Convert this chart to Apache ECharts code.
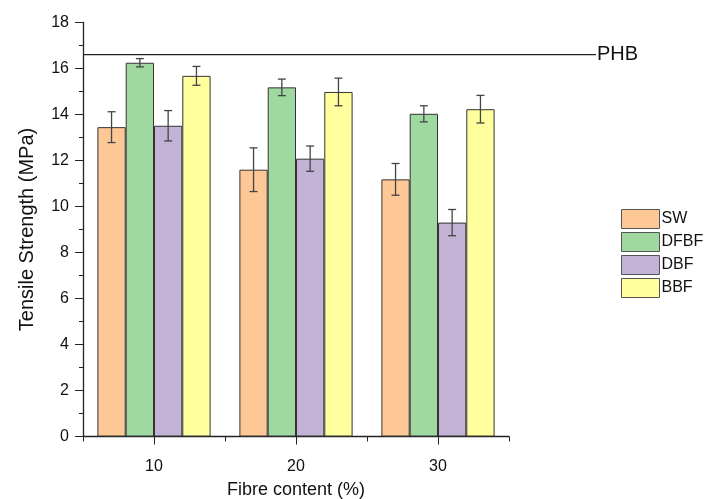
<!DOCTYPE html>
<html>
<head>
<meta charset="utf-8">
<script src="https://cdn.jsdelivr.net/npm/echarts@6/dist/echarts.min.js"></script>
<style>
  html, body { margin: 0; padding: 0; background: #fff; }
  #chart { width: 710px; height: 499px; }
</style>
</head>
<body>
<div id="chart"></div>
<script>
// 数据
var categories = ['10', '20', '30']
var seriesNames = ['SW', 'DFBF', 'DBF', 'BBF']
var swMean = [13.45, 11.6, 11.18]
var swErr = [0.67, 0.95, 0.69]
var dfbfMean = [16.25, 15.18, 14.03]
var dfbfErr = [0.18, 0.36, 0.35]
var dbfMean = [13.51, 12.08, 9.3]
var dbfErr = [0.66, 0.55, 0.57]
var bbfMean = [15.68, 14.98, 14.23]
var bbfErr = [0.41, 0.6, 0.6]
var phbValue = 16.6
var yTicks = [0, 18, 2]

var colors = ['#FDC896', '#A0D9A0', '#C2B3D6', '#FFFF9E']
var means = [swMean, dfbfMean, dbfMean, bbfMean]
var errs = [swErr, dfbfErr, dbfErr, bbfErr]
var barW = 28.3
var font = 'Liberation Sans, Arial, sans-serif'

var myChart = echarts.init(document.getElementById('chart'))

var errData = []
means.forEach(function (arr, s) {
  arr.forEach(function (v, i) {
    errData.push([i, v - errs[s][i], v + errs[s][i], s])
  })
})

var series = []
seriesNames.forEach(function (name, s) {
  series.push({
    name: name,
    type: 'bar',
    xAxisIndex: 0,
    barWidth: barW,
    barGap: '0%',
    itemStyle: { color: colors[s], borderColor: '#333', borderWidth: 1 },
    data: means[s]
  })
})

// 误差线
series.push({
  type: 'custom',
  xAxisIndex: 0,
  z: 5,
  data: errData,
  renderItem: function (params, api) {
    var c = api.coord([api.value(0), 0])
    var x = c[0] + (api.value(3) - 1.5) * barW
    var lo = api.coord([api.value(0), api.value(1)])[1]
    var hi = api.coord([api.value(0), api.value(2)])[1]
    var st = { stroke: '#444', lineWidth: 1.3 }
    return {
      type: 'group',
      children: [
        { type: 'line', shape: { x1: x, y1: lo, x2: x, y2: hi }, style: st },
        { type: 'line', shape: { x1: x - 4, y1: lo, x2: x + 4, y2: lo }, style: st },
        { type: 'line', shape: { x1: x - 4, y1: hi, x2: x + 4, y2: hi }, style: st }
      ]
    }
  }
})

// PHB 参考线
series.push({
  type: 'custom',
  xAxisIndex: 0,
  z: 6,
  clip: false,
  data: [[0, phbValue]],
  renderItem: function (params, api) {
    var y = api.coord([0, api.value(1)])[1]
    var cs = params.coordSys
    var xEnd = cs.x + cs.width + 87
    return {
      type: 'group',
      children: [
        { type: 'line', shape: { x1: cs.x, y1: y, x2: xEnd, y2: y }, style: { stroke: '#222', lineWidth: 1.3 } },
        { type: 'text', x: xEnd + 1, y: y, style: { text: 'PHB', fontSize: 20, fontFamily: font, fill: '#111', verticalAlign: 'middle' } }
      ]
    }
  }
})

var option = {
  animation: false,
  backgroundColor: '#fff',
  grid: { left: 83, right: 201, top: 22.5, bottom: 62.5, outerBoundsMode: 'none' },
  legend: {
    orient: 'vertical',
    left: 621,
    top: 209,
    itemWidth: 38,
    itemHeight: 19,
    itemGap: 3,
    padding: 0,
    icon: 'rect',
    data: seriesNames,
    textStyle: { fontSize: 16, fontFamily: font, color: '#111', padding: [0, 0, 0, -3] },
    itemStyle: { borderColor: '#555', borderWidth: 1 }
  },
  xAxis: [
    {
      type: 'category',
      data: categories,
      name: 'Fibre content (%)',
      nameLocation: 'middle',
      nameGap: 45,
      nameTextStyle: { fontSize: 18, fontFamily: font, color: '#111' },
      axisLine: { lineStyle: { color: '#222', width: 1.3 } },
      axisTick: { show: true, length: 5, lineStyle: { color: '#222' } },
      axisLabel: { fontSize: 16, fontFamily: font, color: '#111', margin: 22 }
    },
    {
      type: 'category',
      data: categories,
      position: 'bottom',
      axisLine: { show: false },
      axisTick: { show: true, alignWithLabel: true, length: 8, lineStyle: { color: '#222' } },
      axisLabel: { show: false }
    }
  ],
  yAxis: {
    type: 'value',
    min: yTicks[0],
    max: yTicks[1],
    interval: yTicks[2],
    name: 'Tensile Strength (MPa)',
    nameLocation: 'middle',
    nameGap: 46,
    nameTextStyle: { fontSize: 20, fontFamily: font, color: '#111' },
    axisLine: { show: true, lineStyle: { color: '#222', width: 1.3 } },
    axisTick: { show: true, length: 8, lineStyle: { color: '#222' } },
    minorTick: { show: true, splitNumber: 2, length: 4, lineStyle: { color: '#222' } },
    splitLine: { show: false },
    axisLabel: { fontSize: 16, fontFamily: font, color: '#111', margin: 14 }
  },
  series: series
}

myChart.setOption(option)
</script>
</body>
</html>
